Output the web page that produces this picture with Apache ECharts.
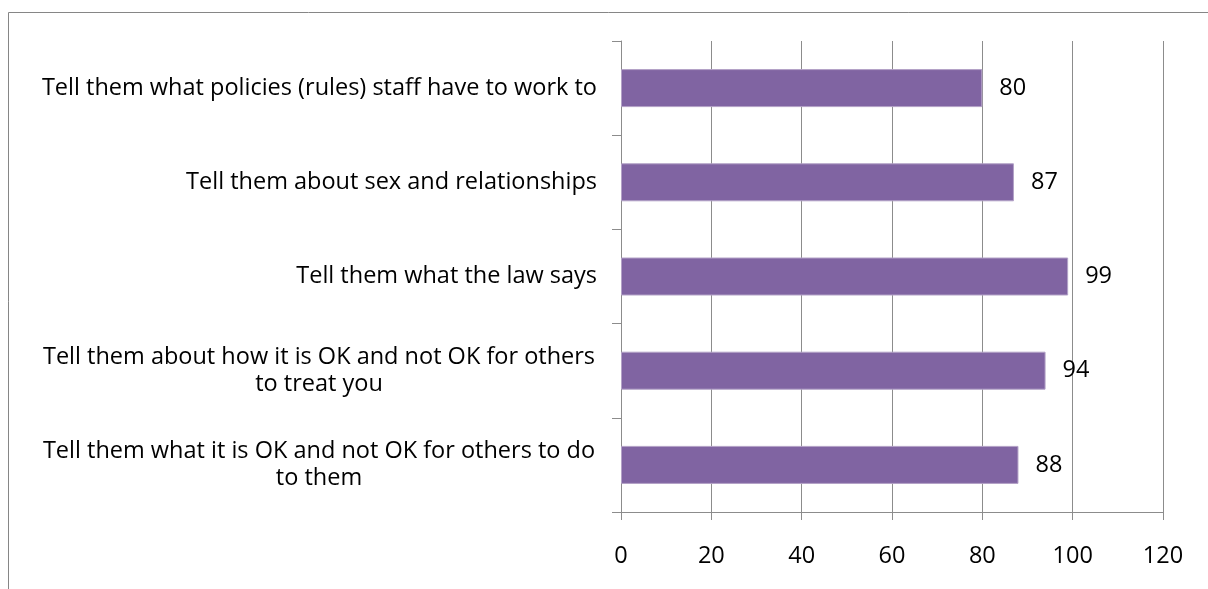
<!DOCTYPE html>
<html>
<head>
<meta charset="utf-8">
<script src="https://cdn.jsdelivr.net/npm/echarts@6/dist/echarts.min.js"></script>
<style>
  html, body { margin: 0; padding: 0; background: #fff; }
  #chart { width: 1208px; height: 589px; }
</style>
</head>
<body>
<div id="chart"></div>
<script>
// top to bottom, as in the picture
const categories = [
  'Tell them what policies (rules) staff have to work to',
  'Tell them about sex and relationships',
  'Tell them what the law says',
  'Tell them about how it is OK and not OK for others\nto treat you',
  'Tell them what it is OK and not OK for others to do\nto them'
];
const values = [80, 87, 99, 94, 88];
const xTicks = [0, 20, 40, 60, 80, 100, 120];

const FONT = 'Open Sans';
const FS = 23.5;
const chart = echarts.init(document.getElementById('chart'));

const option = {
  animation: false,
  textStyle: { fontFamily: FONT },
  graphic: [{
    type: 'rect',
    shape: { x: 8.5, y: 12.5, width: 1220, height: 600 },
    style: { fill: 'none', stroke: '#868686', lineWidth: 1 },
    silent: true
  }],
  grid: { left: 621, right: 45, top: 41, bottom: 77 },
  xAxis: {
    type: 'value',
    min: 0,
    max: 120,
    interval: 20,
    axisLine: { show: true, lineStyle: { color: '#8c8c8c', width: 1 } },
    axisTick: { show: true, length: 8, inside: false, lineStyle: { color: '#8c8c8c' } },
    splitLine: { show: true, lineStyle: { color: '#8c8c8c', width: 1 } },
    axisLabel: {
      color: '#000',
      fontSize: FS,
      fontFamily: FONT,
      margin: 32,
      formatter: v => xTicks.includes(v) ? String(v) : ''
    }
  },
  yAxis: {
    type: 'category',
    inverse: true,
    data: categories,
    axisLine: { show: true, lineStyle: { color: '#8c8c8c', width: 1 } },
    axisTick: { show: true, length: 9, lineStyle: { color: '#8c8c8c' } },
    axisLabel: {
      color: '#000',
      fontSize: FS,
      fontFamily: FONT,
      margin: 24,
      align: 'right',
      lineHeight: 27,
      formatter: function (v) {
        if (v.indexOf('\n') < 0) return v;
        return v.split('\n').map(s => '{c|' + s + '}').join('\n');
      },
      rich: {
        c: { width: 556, align: 'center', fontSize: FS, fontFamily: FONT, color: '#000', lineHeight: 27 }
      }
    }
  },
  series: [{
    type: 'bar',
    data: values,
    barWidth: 38,
    itemStyle: { color: '#8064A2', borderColor: '#B3A2C7', borderWidth: 1 },
    label: {
      show: true,
      position: 'right',
      distance: 17,
      color: '#000',
      fontSize: FS,
      fontFamily: FONT
    }
  }]
};

chart.setOption(option);
</script>
</body>
</html>
